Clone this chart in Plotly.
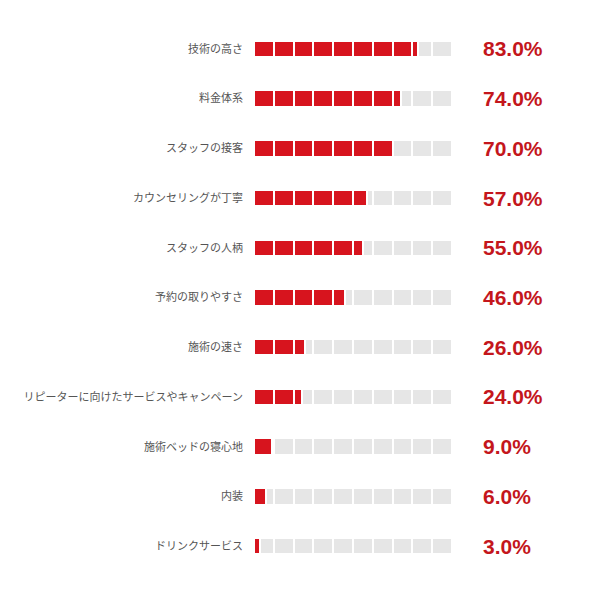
import plotly.graph_objects as go

labels = ['技術の高さ', '料金体系', 'スタッフの接客', 'カウンセリングが丁寧', 'スタッフの人柄',
          '予約の取りやすさ', '施術の速さ', 'リピーターに向けたサービスやキャンペーン',
          '施術ベッドの寝心地', '内装', 'ドリンクサービス']
values = [83.0, 74.0, 70.0, 57.0, 55.0, 46.0, 26.0, 24.0, 9.0, 6.0, 3.0]

red = '#d7141e'
fig = go.Figure()
# 10 segments of 10% each: grey background, then red fill on top
for i in range(10):
    fig.add_trace(go.Bar(y=labels, x=[10] * len(labels), base=[10 * i] * len(labels),
                         orientation='h', marker=dict(color='#e6e6e6', line=dict(color='white', width=2)),
                         width=0.33, hoverinfo='skip'))
for i in range(10):
    seg = [max(0, min(10, v - 10 * i)) for v in values]
    fig.add_trace(go.Bar(y=labels, x=seg, base=[10 * i] * len(labels),
                         orientation='h', marker=dict(color=red, line=dict(color='white', width=2)),
                         width=0.33))

for lab, v in zip(labels, values):
    fig.add_annotation(x=1.145, y=lab, xref='paper', yref='y', text=f'<b>{v:.1f}%</b>',
                       showarrow=False, xanchor='left',
                       font=dict(size=21, color='#c4161c', family='Liberation Sans, Arial'))

fig.update_layout(
    width=602, height=599, barmode='overlay', showlegend=False,
    plot_bgcolor='white', paper_bgcolor='white',
    margin=dict(l=246, r=158, t=16, b=36),
    bargap=0,
    font=dict(family='Noto Sans CJK JP', size=11, color='#555'),
)
fig.update_xaxes(range=[0, 100], showgrid=False, showticklabels=False, zeroline=False, fixedrange=True)
fig.update_yaxes(autorange='reversed', ticks='', ticklabelstandoff=10, showgrid=False)

fig.write_html('out.html')
